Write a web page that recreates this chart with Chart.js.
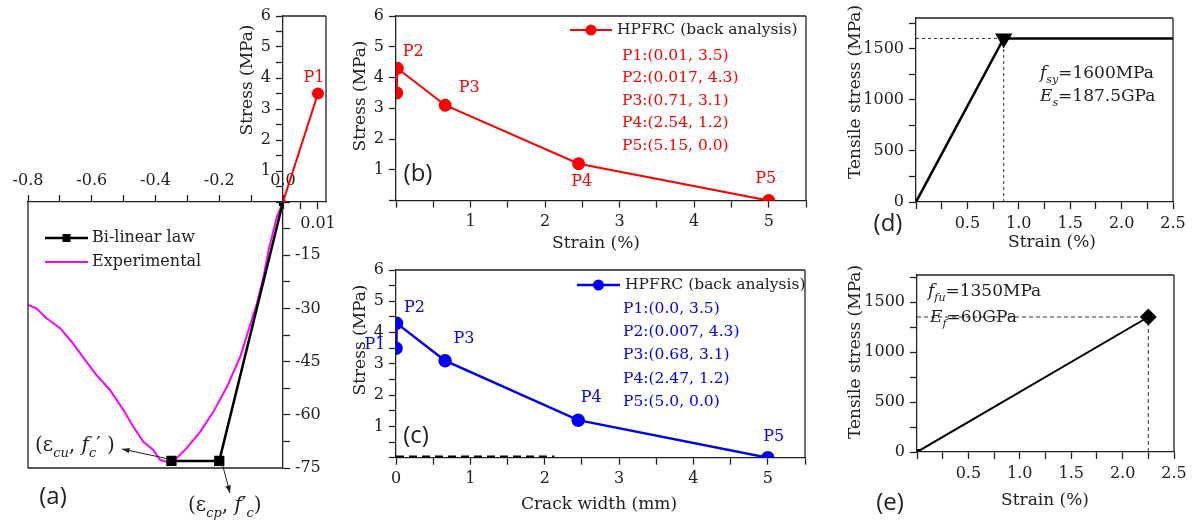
<!DOCTYPE html>
<html>
<head>
<meta charset="utf-8">
<script src="https://cdn.jsdelivr.net/npm/chart.js@4.4.1/dist/chart.umd.min.js"></script>
<style>
  html, body { margin: 0; padding: 0; background: #fff; }
  #wrap { position: relative; width: 1195px; height: 531px; overflow: hidden; }
  #wrap canvas { position: absolute; left: 0; top: 0; }
</style>
</head>
<body>
<div id="wrap">
  <canvas id="cA2" width="1195" height="531"></canvas>
  <canvas id="cA1" width="1195" height="531"></canvas>
  <canvas id="cB" width="1195" height="531"></canvas>
  <canvas id="cC" width="1195" height="531"></canvas>
  <canvas id="cD" width="1195" height="531"></canvas>
  <canvas id="cE" width="1195" height="531"></canvas>
</div>
<script>
// ---- data ----
// (a) tension branch
const tensionStrain = [0, 0.01];
const tensionStress = [0, 3.5];
// (a) compression: bi-linear law and test curve
const bilinStrain = [0, -0.2, -0.35];
const bilinStress = [0, -73, -73];
const expStrain = [-0.8, -0.774, -0.742, -0.70, -0.663, -0.621, -0.585, -0.543, -0.501, -0.470,
  -0.438, -0.407, -0.386, -0.365, -0.339, -0.302, -0.260, -0.218, -0.176, -0.134,
  -0.108, -0.082, -0.061, -0.045, -0.019, 0];
const expStress = [-29, -30, -32.8, -35.5, -39.4, -44.5, -48.8, -53, -58.6, -63.3,
  -67.6, -69.9, -72.7, -73.2, -72.7, -69.4, -64.8, -59.1, -52.1, -43.6,
  -36.1, -28.6, -21, -13.5, -4.1, 0];
// (b) stress vs strain, (c) stress vs crack width
const pointNames = ['P1', 'P2', 'P3', 'P4', 'P5'];
const strainB = [0.01, 0.017, 0.66, 2.45, 5.0];
const stressB = [3.5, 4.3, 3.1, 1.2, 0.0];
const listB = ['P1:(0.01, 3.5)', 'P2:(0.017, 4.3)', 'P3:(0.71, 3.1)', 'P4:(2.54, 1.2)', 'P5:(5.15, 0.0)'];
const crackC = [0.0, 0.007, 0.66, 2.45, 5.0];
const stressC = [3.5, 4.3, 3.1, 1.2, 0.0];
const listC = ['P1:(0.0, 3.5)', 'P2:(0.007, 4.3)', 'P3:(0.68, 3.1)', 'P4:(2.47, 1.2)', 'P5:(5.0, 0.0)'];
const dashCrack = [0, 2.13];
const dashStress = [0.04, 0.04];
// (d) steel, (e) FRP
const steelStrain = [0, 0.853, 2.5];
const steelStress = [0, 1600, 1600];
const fsy = 1600, epsSy = 0.853;
const frpStrain = [0, 2.25];
const frpStress = [0, 1350];
const ffu = 1350, epsFu = 2.25;

const W = 1195, H = 531;
const AX = 60; // room given to each axis box (labels are clipped to it)
const SERIF = '"DejaVu Serif", serif';
const SANS = '"Open Sans", sans-serif';
const INK = '#222';
const RED = '#ff0000', BLUE = '#0000ff', MAG = '#ff00ff';

function axis(pos, min, max, step, label) {
  return {
    type: 'linear', position: pos, min: min, max: max,
    afterFit: s => { if (s.isHorizontal()) s.height = AX; else s.width = AX; },
    // plain ticks every `step`, chart.js would otherwise stretch the spacing
    afterBuildTicks: s => {
      const out = [];
      for (let k = Math.ceil(min / step - 1e-9); k * step <= max + 1e-9; k++) out.push({ value: +(k * step).toFixed(10) });
      s.ticks = out;
    },
    grid: { drawOnChartArea: false, tickLength: 7, tickWidth: 1.3, tickColor: INK },
    border: { color: INK, width: 1.3 },
    ticks: { stepSize: step, autoSkip: false, maxRotation: 0, padding: 5, color: INK,
      font: { family: SERIF, size: 16 }, callback: label }
  };
}

function line(xs, ys, color, width, extra) {
  return Object.assign({
    data: xs.map((x, i) => ({ x: x, y: ys[i] })),
    showLine: true, borderColor: color, backgroundColor: color,
    borderWidth: width, pointRadius: 0, tension: 0
  }, extra);
}

function make(id, box, scales, datasets, draw) {
  const pad = { left: box[0], top: box[1], right: W - box[2], bottom: H - box[3] };
  Object.values(scales).forEach(s => { pad[s.position] -= AX; });
  return new Chart(document.getElementById(id), {
    type: 'scatter',
    data: { datasets: datasets },
    options: {
      responsive: false, animation: false, events: [],
      layout: { autoPadding: false, padding: pad },
      scales: scales,
      plugins: { legend: { display: false }, tooltip: { enabled: false } }
    },
    plugins: [{ id: 'deco', afterDraw: c => { const ctx = c.ctx; ctx.save(); draw(c, ctx); ctx.restore(); } }]
  });
}

// ---- drawing helpers ----
function frame(c, ctx, sides) {
  const a = c.chartArea;
  ctx.strokeStyle = INK; ctx.lineWidth = 1.3;
  ctx.beginPath();
  if (sides.includes('t')) { ctx.moveTo(a.left, a.top); ctx.lineTo(a.right, a.top); }
  if (sides.includes('r')) { ctx.moveTo(a.right, a.top); ctx.lineTo(a.right, a.bottom); }
  if (sides.includes('l')) { ctx.moveTo(a.left, a.top); ctx.lineTo(a.left, a.bottom); }
  if (sides.includes('b')) { ctx.moveTo(a.left, a.bottom); ctx.lineTo(a.right, a.bottom); }
  ctx.stroke();
}
function text(ctx, t, x, y, font, color, align) {
  ctx.font = font; ctx.fillStyle = color; ctx.textAlign = align || 'left'; ctx.textBaseline = 'middle';
  ctx.fillText(t, x, y);
}
function vtitle(ctx, t, x, y) {
  ctx.save(); ctx.translate(x, y); ctx.rotate(-Math.PI / 2);
  text(ctx, t, 0, 0, '17px ' + SERIF, INK, 'center');
  ctx.restore();
}
// runs: [text, style]; style 'i' italic, 's' subscript
function rich(ctx, runs, x, y, size, color) {
  ctx.fillStyle = color; ctx.textAlign = 'left'; ctx.textBaseline = 'middle';
  runs.forEach(r => {
    const sub = r[1].includes('s'), it = r[1].includes('i');
    const fs = sub ? size * 0.65 : size;
    ctx.font = (it ? 'italic ' : '') + fs + 'px ' + SERIF;
    ctx.fillText(r[0], x, y + (sub ? size * 0.38 : 0));
    x += ctx.measureText(r[0]).width;
  });
}
function plabels(c, ctx, xs, ys, names, offs, color) {
  names.forEach((n, i) => {
    if (!offs[i]) return;
    const px = c.scales.x.getPixelForValue(xs[i]) + offs[i][0];
    const py = c.scales.y.getPixelForValue(ys[i]) + offs[i][1];
    text(ctx, n, px, py, '16px ' + SERIF, color, 'center');
  });
}
function legendLine(ctx, x1, x2, y, color, width, marker, r) {
  ctx.strokeStyle = color; ctx.lineWidth = width;
  ctx.beginPath(); ctx.moveTo(x1, y); ctx.lineTo(x2, y); ctx.stroke();
  ctx.fillStyle = color;
  const m = (x1 + x2) / 2;
  if (marker === 'circle') { ctx.beginPath(); ctx.arc(m, y, r, 0, 2 * Math.PI); ctx.fill(); }
  else if (marker === 'rect') ctx.fillRect(m - r, y - r, 2 * r, 2 * r);
}
function arrow(ctx, x1, y1, x2, y2) {
  const ang = Math.atan2(y2 - y1, x2 - x1), h = 8;
  ctx.strokeStyle = INK; ctx.fillStyle = INK; ctx.lineWidth = 1;
  ctx.beginPath(); ctx.moveTo(x1, y1); ctx.lineTo(x2, y2); ctx.stroke();
  ctx.beginPath(); ctx.moveTo(x2, y2);
  ctx.lineTo(x2 - h * Math.cos(ang - 0.35), y2 - h * Math.sin(ang - 0.35));
  ctx.lineTo(x2 - h * Math.cos(ang + 0.35), y2 - h * Math.sin(ang + 0.35));
  ctx.closePath(); ctx.fill();
}
function pix(c, x, y) { return [c.scales.x.getPixelForValue(x), c.scales.y.getPixelForValue(y)]; }

const intLabel = v => (v > 0 && Math.abs(v - Math.round(v)) < 1e-9) ? String(Math.round(v)) : '';

// ---- (a) compression part ----
make('cA2', [28, 202, 283, 468], {
  x: axis('top', -0.8, 0, 0.1, v => Math.round(v * 10) % 2 === 0 ? (Math.abs(v) < 1e-9 ? '0.0' : v.toFixed(1)) : ''),
  y: axis('right', -75, 0, 7.5, v => (v < 0 && Math.abs(v % 15) < 1e-6) ? String(v) : '')
}, [
  line(bilinStrain, bilinStress, '#000', 2.5, { label: 'Bi-linear law', pointStyle: 'rect', pointRadius: [4, 5.5, 5.5] }),
  line(expStrain, expStress, MAG, 2, { label: 'Experimental' })
], (c, ctx) => {
  frame(c, ctx, 'lb');
  const ds = c.data.datasets;
  legendLine(ctx, 45, 88, 238, '#000', 2.5, 'rect', 4);
  text(ctx, ds[0].label, 92, 238, '16px ' + SERIF, INK);
  legendLine(ctx, 45, 88, 262, MAG, 2, null, 0);
  text(ctx, ds[1].label, 92, 262, '16px ' + SERIF, INK);
  const pu = pix(c, bilinStrain[2], bilinStress[2]);
  const pp = pix(c, bilinStrain[1], bilinStress[1]);
  arrow(ctx, pu[0] - 3, pu[1] - 2, 122, 449);
  arrow(ctx, pp[0] + 3, pp[1] + 3, 230, 493);
  rich(ctx, [['(\u03b5', ''], ['cu', 'is'], [', ', ''], ['f', 'i'], ['c', 'is'], ['\u2032 )', '']], 35, 446, 20, INK);
  rich(ctx, [['(\u03b5', ''], ['cp', 'is'], [', ', ''], ['f', 'i'], ['\u2032', ''], ['c', 'is'], [')', '']], 188, 506, 20, INK);
  text(ctx, '(a)', 53, 497, '24px ' + SANS, INK, 'center');
});

// ---- (a) tension part ----
make('cA1', [283, 16, 326, 202], {
  x: axis('bottom', 0, 0.0123, 0.005, v => Math.abs(v - 0.01) < 1e-9 ? '0.01' : ''),
  y: axis('left', 0, 6, 0.5, intLabel)
}, [line(tensionStrain, tensionStress, RED, 2, { pointRadius: [2, 5] })], (c, ctx) => {
  frame(c, ctx, 'tr');
  plabels(c, ctx, tensionStrain, tensionStress, ['', 'P1'], [null, [-4, -16]], RED);
  vtitle(ctx, 'Stress (MPa)', 248, 80);
});

// ---- (b) ----
make('cB', [396, 16, 806, 200.6], {
  x: axis('bottom', 0, 5.5, 0.5, intLabel),
  y: axis('left', 0, 6, 1, intLabel)
}, [line(strainB, stressB, RED, 2, { label: 'HPFRC (back analysis)', pointRadius: 5.5 })], (c, ctx) => {
  frame(c, ctx, 'tr');
  plabels(c, ctx, strainB, stressB, pointNames, [null, [16, -16], [24, -17], [3, 18], [-3, -22]], RED);
  legendLine(ctx, 570, 612, 30, RED, 2, 'circle', 5.5);
  text(ctx, c.data.datasets[0].label, 617, 30, '15.5px ' + SERIF, INK);
  listB.forEach((t, i) => text(ctx, t, 622, 56 + i * 22.4, '15.5px ' + SERIF, RED));
  text(ctx, '(b)', 418, 174, '24px ' + SANS, INK, 'center');
  text(ctx, 'Strain (%)', 596, 244, '17px ' + SERIF, INK, 'center');
  vtitle(ctx, 'Stress (MPa)', 361, 96);
});

// ---- (c) ----
make('cC', [396, 270, 805, 457.7], {
  x: axis('bottom', 0, 5.5, 0.5, v => Math.abs(v - Math.round(v)) < 1e-9 ? String(Math.round(v)) : ''),
  y: axis('left', 0, 6, 0.5, intLabel)
}, [
  line(crackC, stressC, BLUE, 2.5, { label: 'HPFRC (back analysis)', pointRadius: 5.5 }),
  line(dashCrack, dashStress, '#000', 2, { borderDash: [8, 5] })
], (c, ctx) => {
  frame(c, ctx, 'tr');
  plabels(c, ctx, crackC, stressC, pointNames, [[-21, -3], [18, -15], [19, -22], [13, -22], [6, -21]], BLUE);
  legendLine(ctx, 577, 620, 285, BLUE, 2.5, 'circle', 5.5);
  text(ctx, c.data.datasets[0].label, 625, 285, '15.5px ' + SERIF, INK);
  listC.forEach((t, i) => text(ctx, t, 623, 309 + i * 23.2, '15.5px ' + SERIF, BLUE));
  text(ctx, '(c)', 416, 436, '24px ' + SANS, INK, 'center');
  text(ctx, 'Crack width (mm)', 599, 505, '17px ' + SERIF, INK, 'center');
  vtitle(ctx, 'Stress (MPa)', 361, 340);
});

const halfLabel = v => (v > 0 && Math.abs(v * 2 - Math.round(v * 2)) < 1e-9) ? v.toFixed(1) : '';

// ---- (d) steel ----
make('cD', [916, 18, 1173, 202], {
  x: axis('bottom', 0, 2.5, 0.25, halfLabel),
  y: axis('left', 0, 1800, 250, v => v % 500 === 0 ? String(v) : '')
}, [
  line(steelStrain, steelStress, '#000', 2.5, { pointStyle: 'triangle', pointRotation: 180, pointRadius: [0, 7.5, 0] }),
  line([0, epsSy], [fsy, fsy], '#333', 1, { borderDash: [3, 3] }),
  line([epsSy, epsSy], [0, fsy], '#333', 1, { borderDash: [3, 3] })
], (c, ctx) => {
  frame(c, ctx, 'tr');
  rich(ctx, [['f', 'i'], ['sy', 'is'], ['=1600MPa', '']], 1040, 74, 17, INK);
  rich(ctx, [['E', 'i'], ['s', 'is'], ['=187.5GPa', '']], 1040, 97, 17, INK);
  text(ctx, '(d)', 888, 224, '24px ' + SANS, INK, 'center');
  text(ctx, 'Strain (%)', 1052, 243, '17px ' + SERIF, INK, 'center');
  vtitle(ctx, 'Tensile stress (MPa)', 856, 92);
});

// ---- (e) FRP ----
make('cE', [917, 275, 1174, 452], {
  x: axis('bottom', 0, 2.5, 0.25, halfLabel),
  y: axis('left', 0, 1770, 250, v => v % 500 === 0 ? String(v) : '')
}, [
  line(frpStrain, frpStress, '#000', 2, { pointStyle: ['rect', 'rectRot'], pointRadius: [3, 7] }),
  line([0, epsFu], [ffu, ffu], '#333', 1, { borderDash: [4, 3] }),
  line([epsFu, epsFu], [0, ffu], '#333', 1, { borderDash: [4, 3] })
], (c, ctx) => {
  frame(c, ctx, 'tr');
  rich(ctx, [['f', 'i'], ['fu', 'is'], ['=1350MPa', '']], 928, 292, 17, INK);
  rich(ctx, [['E', 'i'], ['f', 'is'], ['=60GPa', '']], 930, 318, 17, INK);
  text(ctx, '(e)', 890, 503, '24px ' + SANS, INK, 'center');
  text(ctx, 'Strain (%)', 1045, 501, '17px ' + SERIF, INK, 'center');
  vtitle(ctx, 'Tensile stress (MPa)', 856, 352);
});
</script>
</body>
</html>
